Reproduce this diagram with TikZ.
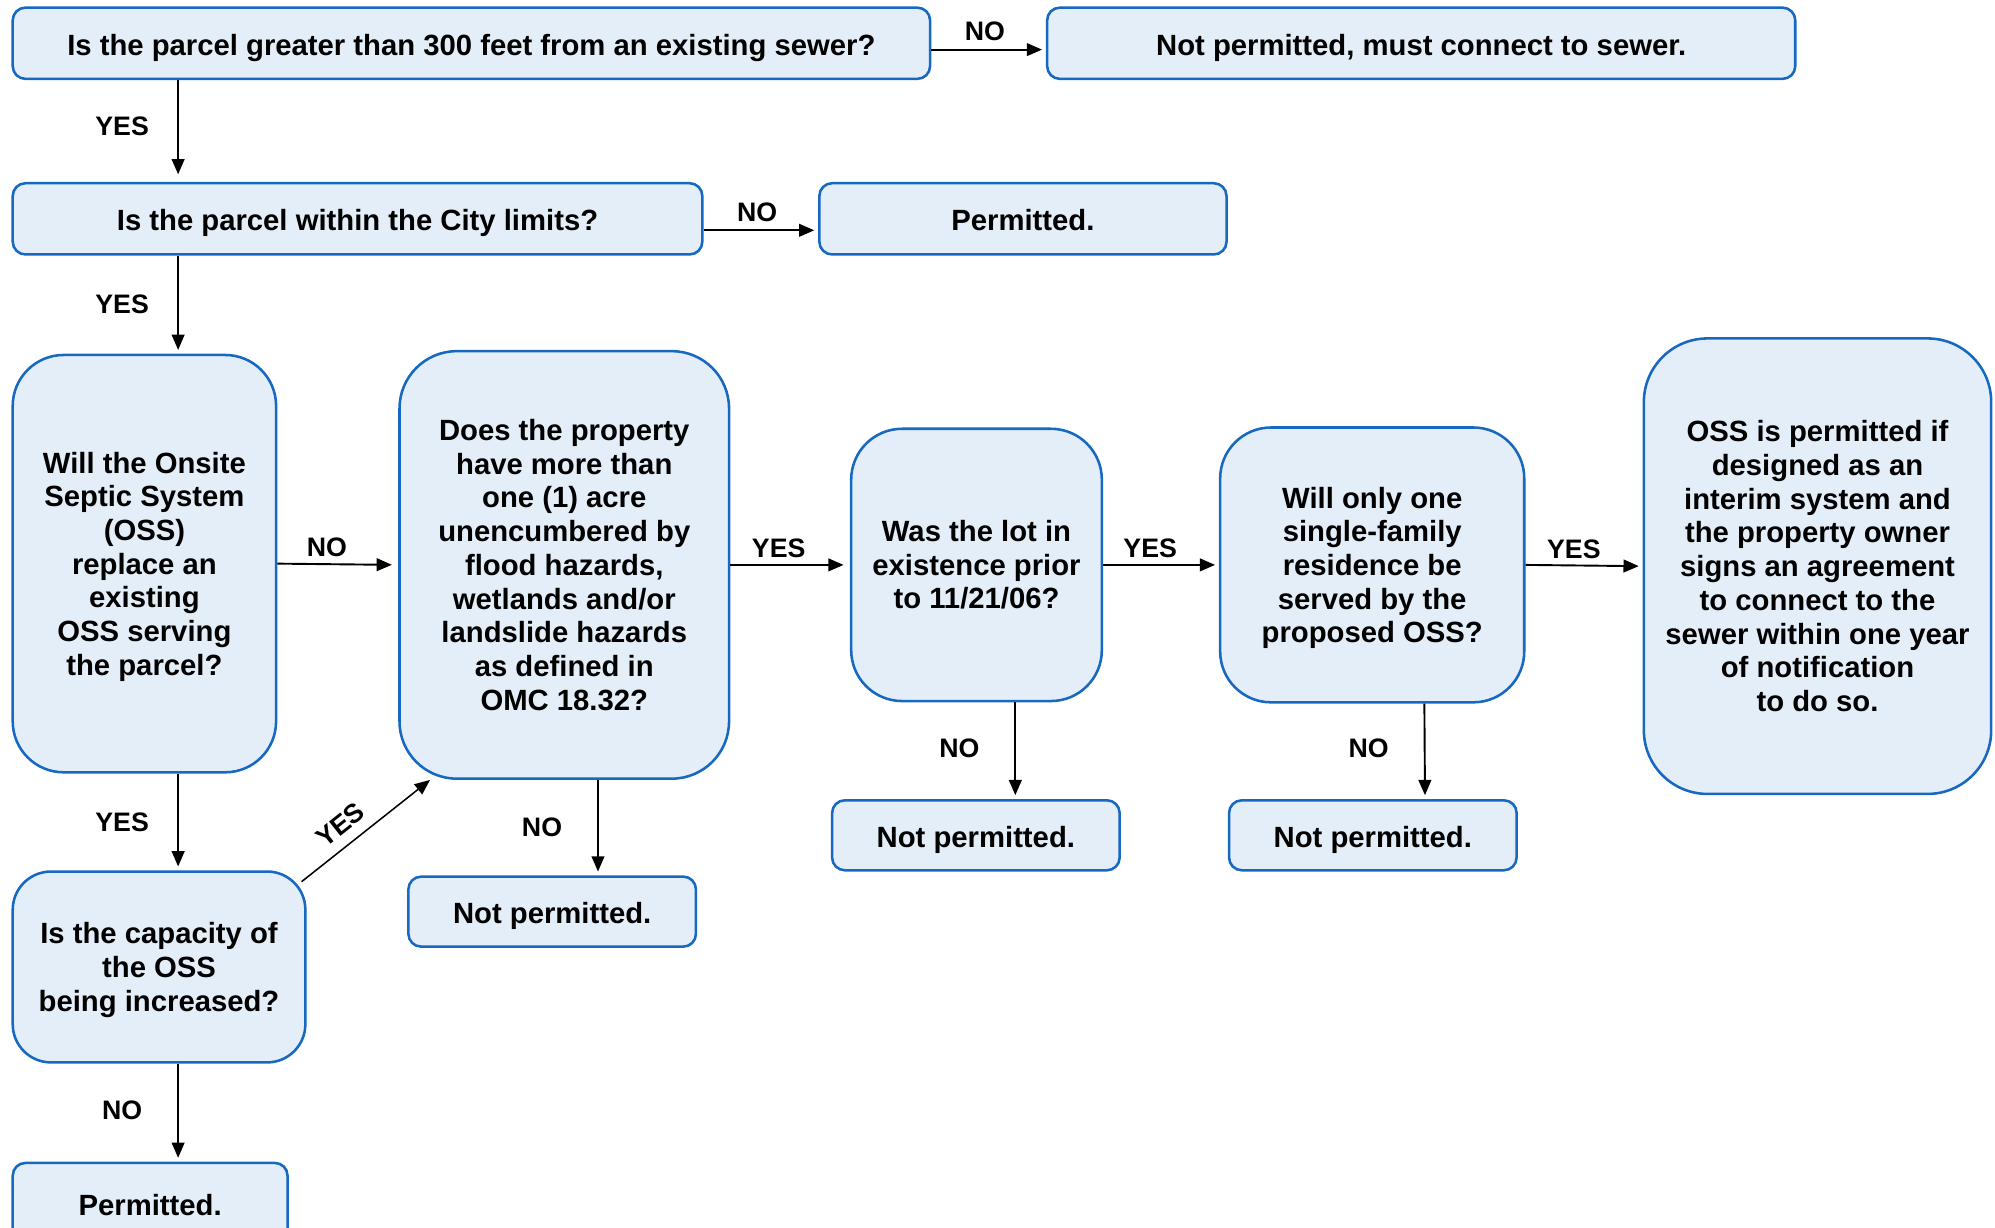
\documentclass[tikz,border=0pt]{standalone}
\usepackage{fontspec}
\setmainfont{Liberation Sans}
\usetikzlibrary{arrows.meta}
\definecolor{boxfill}{RGB}{228,238,248}
\definecolor{boxline}{RGB}{22,104,192}
\newcommand{\nodp}[1]{\raisebox{0pt}[\height][0pt]{#1}}
\tikzset{
  box/.style={draw=boxline, fill=boxfill, line width=2pt, rectangle, align=center,
    inner sep=0pt, font=\fontsize{23}{26.5}\selectfont\bfseries},
  onebox/.style={box, rounded corners=10pt, text height=18.6pt, text depth=0pt},
  arr/.style={line width=1.5pt, -{Triangle[length=12pt,width=10pt]}, shorten >=3pt},
  lbl/.style={font=\fontsize{21}{24}\selectfont\bfseries, inner sep=0pt}
}
\begin{document}
\begin{tikzpicture}[x=1pt,y=-1pt]
\useasboundingbox (0,0) rectangle (1568,965);
\clip (0,0) rectangle (1568,965);
% top row
\node[onebox, minimum width=721pt, minimum height=56pt] (A) at (370.5,34) {Is the parcel greater than 300 feet from an existing sewer?};
\node[onebox, minimum width=588pt, minimum height=56pt] (B) at (1117,34) {Not permitted, must connect to sewer.};
\node[onebox, minimum width=542pt, minimum height=56pt] (C) at (281,172) {Is the parcel within the City limits?};
\node[onebox, minimum width=320pt, minimum height=56pt] (D) at (804,172) {Permitted.};
% middle row
\node[box, rounded corners=40pt, minimum width=207pt, minimum height=328pt] (E) at (113.5,443) {Will the Onsite\\Septic System\\(OSS)\\replace an\\existing\\OSS serving\\\nodp{the parcel?}};
\node[box, rounded corners=45pt, minimum width=259pt, minimum height=336pt] (F) at (443.5,444) {Does the property\\have more than\\one (1) acre\\unencumbered by\\flood hazards,\\wetlands and/or\\landslide hazards\\as defined in\\OMC 18.32?};
\node[box, rounded corners=40pt, minimum width=197pt, minimum height=214pt] (G) at (767.5,444) {Was the lot in\\existence prior\\to 11/21/06?};
\node[box, rounded corners=40pt, minimum width=239pt, minimum height=216pt] (H) at (1078.5,444) {Will only one\\single-family\\residence be\\served by the\\\nodp{proposed OSS?}};
\node[box, rounded corners=50pt, minimum width=273pt, minimum height=358pt] (I) at (1428.5,445) {OSS is permitted if\\designed as an\\interim system and\\the property owner\\signs an agreement\\to connect to the\\sewer within one year\\of notification\\to do so.};
% lower row
\node[box, rounded corners=30pt, minimum width=230pt, minimum height=150pt] (J) at (125,760) {Is the capacity of\\the OSS\\\nodp{being increased?}};
\node[onebox, minimum width=226pt, minimum height=55pt] (K) at (434,716.5) {Not permitted.};
\node[onebox, minimum width=226pt, minimum height=55pt] (L) at (767,656.5) {Not permitted.};
\node[onebox, minimum width=226pt, minimum height=55pt] (M) at (1079,656.5) {Not permitted.};
\node[onebox, minimum width=216pt, minimum height=64pt] (N) at (118,946) {Permitted.};
% connectors
\draw[arr] ([yshift=-5pt]A.east) -- node[lbl, midway, xshift=-3pt, yshift=14pt] {NO} ([yshift=-5pt]B.west);
\draw[arr] ([yshift=-9pt]C.east) -- node[lbl, midway, xshift=-3pt, yshift=14pt] {NO} ([yshift=-9pt]D.west);
\draw[arr, shorten >=6pt] ([xshift=131pt]A.south west) -- node[lbl, midway, xshift=-44pt, yshift=4pt] {YES} ([xshift=131pt]C.north west);
\draw[arr] ([xshift=131pt]C.south west) -- node[lbl, midway, xshift=-44pt] {YES} ([xshift=131pt]E.north west);
\draw[arr, shorten >=5pt] (E.east) -- node[lbl, midway, xshift=-8.5pt, yshift=13pt] {NO} (F.west);
\draw[arr, shorten >=5pt] (F.east) -- node[lbl, midway, xshift=-9pt, yshift=13pt] {YES} (G.west);
\draw[arr] (G.east) -- node[lbl, midway, xshift=-8.5pt, yshift=13pt] {YES} (H.west);
\draw[arr] (H.east) -- node[lbl, midway, xshift=-8pt, yshift=13pt] {YES} (I.west);
\draw[arr] ([xshift=131pt]E.south west) -- node[lbl, midway, xshift=-44pt] {YES} ([xshift=131pt]J.north west);
\draw[arr] ([xshift=131pt]J.south west) -- node[lbl, midway, xshift=-44pt, yshift=2pt] {NO} ([xshift=131pt]N.north west);
\draw[arr] ([xshift=157pt]F.south west) -- node[lbl, midway, xshift=-44pt] {NO} ([xshift=150pt]K.north west);
\draw[arr] ([xshift=130pt]G.south west) -- node[lbl, midway, xshift=-44pt, yshift=2pt] {NO} ([xshift=145pt]L.north west);
\draw[arr] ([xshift=161.5pt]H.south west) -- node[lbl, midway, xshift=-44pt, yshift=2pt] {NO} ([xshift=155pt]M.north west);
\draw[line width=1.2pt, -{Triangle[length=12pt,width=10pt]}] ([xshift=-4pt,yshift=-9pt]J.north east) -- node[lbl, pos=0.4, sloped, above=8pt] {YES} ([xshift=25pt]F.south west);
\end{tikzpicture}
\end{document}
